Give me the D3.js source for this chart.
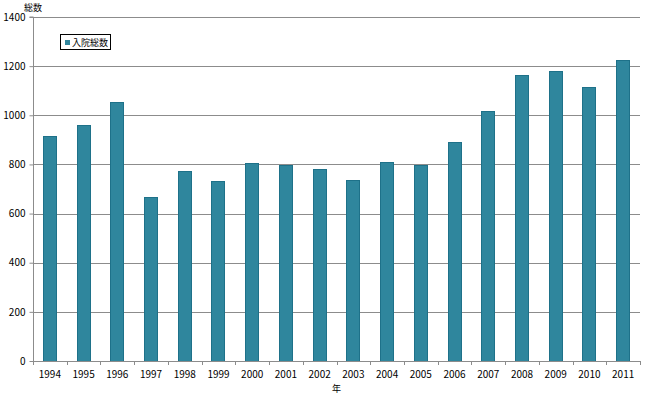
<!DOCTYPE html>
<html><head><meta charset="utf-8">
<script src="https://cdn.jsdelivr.net/npm/d3@7"></script>
<style>
body{margin:0;background:#fff;}
text{font-family:"Noto Sans CJK JP","DejaVu Sans",sans-serif;font-size:10px;fill:#000;}
</style></head>
<body><svg id="c" width="650" height="395"></svg>
<script>
const years = ["1994","1995","1996","1997","1998","1999","2000","2001","2002","2003","2004","2005","2006","2007","2008","2009","2010","2011"];
const values = [914,960,1053,667,774,731,804,798,781,737,810,798,891,1017,1164,1181,1115,1225];
const yTicks = [0,200,400,600,800,1000,1200,1400];
const seriesName = "入院総数";
const yTitle = "総数";
const xTitle = "年";

const svg = d3.select("#c");
const m = {l:33, r:10, t:17, b:34};
const W = 650, H = 395;
const xb = d3.scaleBand().domain(years).range([m.l, W - m.r]);
const y = d3.scaleLinear().domain([0,1400]).range([H - m.b, m.t]);

// gridlines
svg.append("g").selectAll("line").data(yTicks.filter(d=>d>0)).join("line")
  .attr("x1", m.l).attr("x2", W - m.r)
  .attr("y1", d=>Math.round(y(d))+0.5).attr("y2", d=>Math.round(y(d))+0.5)
  .attr("stroke", "#8c8c8c").attr("stroke-width", 1);

// bars
svg.append("g").selectAll("rect").data(values).join("rect")
  .attr("x", (d,i)=> Math.round(xb(years[i]) + xb.bandwidth()/2 - 7) + 0.5)
  .attr("width", 13)
  .attr("y", d=> Math.round(y(d)) + 0.5)
  .attr("height", d=> Math.round(y(0)) - Math.round(y(d)))
  .attr("fill", "#2f869d").attr("stroke", "#1e7189").attr("stroke-width", 1);

// y axis
const ya = svg.append("g").attr("transform", `translate(${m.l+0.5},0)`)
  .call(d3.axisLeft(y).tickValues(yTicks).tickSize(4).tickPadding(4).tickFormat(d3.format("d")));
ya.select(".domain").attr("stroke", "#8c8c8c").attr("d", `M-4,${y(1400)}H0V${y(0)}`);
ya.selectAll(".tick line").attr("stroke", "#8c8c8c");
ya.selectAll(".tick text").style("font-size","10px").attr("fill","#000");

// x axis
const xa = svg.append("g").attr("transform", `translate(0,${Math.round(y(0))+0.5})`)
  .call(d3.axisBottom(xb).tickSize(0).tickPadding(9));
xa.select(".domain").attr("stroke", "#8c8c8c").attr("d", `M${m.l},0H${W-m.r}`);
xa.selectAll(".tick text").style("font-size","10px").attr("fill","#000");
// boundary ticks
svg.append("g").selectAll("line").data(d3.range(years.length+1)).join("line")
  .attr("x1", i => Math.round(m.l + i*xb.step())+0.5).attr("x2", i => Math.round(m.l + i*xb.step())+0.5)
  .attr("y1", Math.round(y(0))).attr("y2", Math.round(y(0))+4)
  .attr("stroke", "#8c8c8c");

// titles
svg.append("text").attr("x", 24).attr("y", 11).style("font-size","9px").text(yTitle);
svg.append("text").attr("x", 332).attr("y", 392).style("font-size","9px").text(xTitle);

// legend
const lg = svg.append("g");
lg.append("rect").attr("x", 60.5).attr("y", 34.5).attr("width", 50).attr("height", 15)
  .attr("fill", "#fff").attr("stroke", "#000");
lg.append("rect").attr("x", 65).attr("y", 40).attr("width", 5).attr("height", 5).attr("fill", "#2f869d");
lg.append("text").attr("x", 72).attr("y", 46).style("font-size","9px").text(seriesName);
</script></body></html>
